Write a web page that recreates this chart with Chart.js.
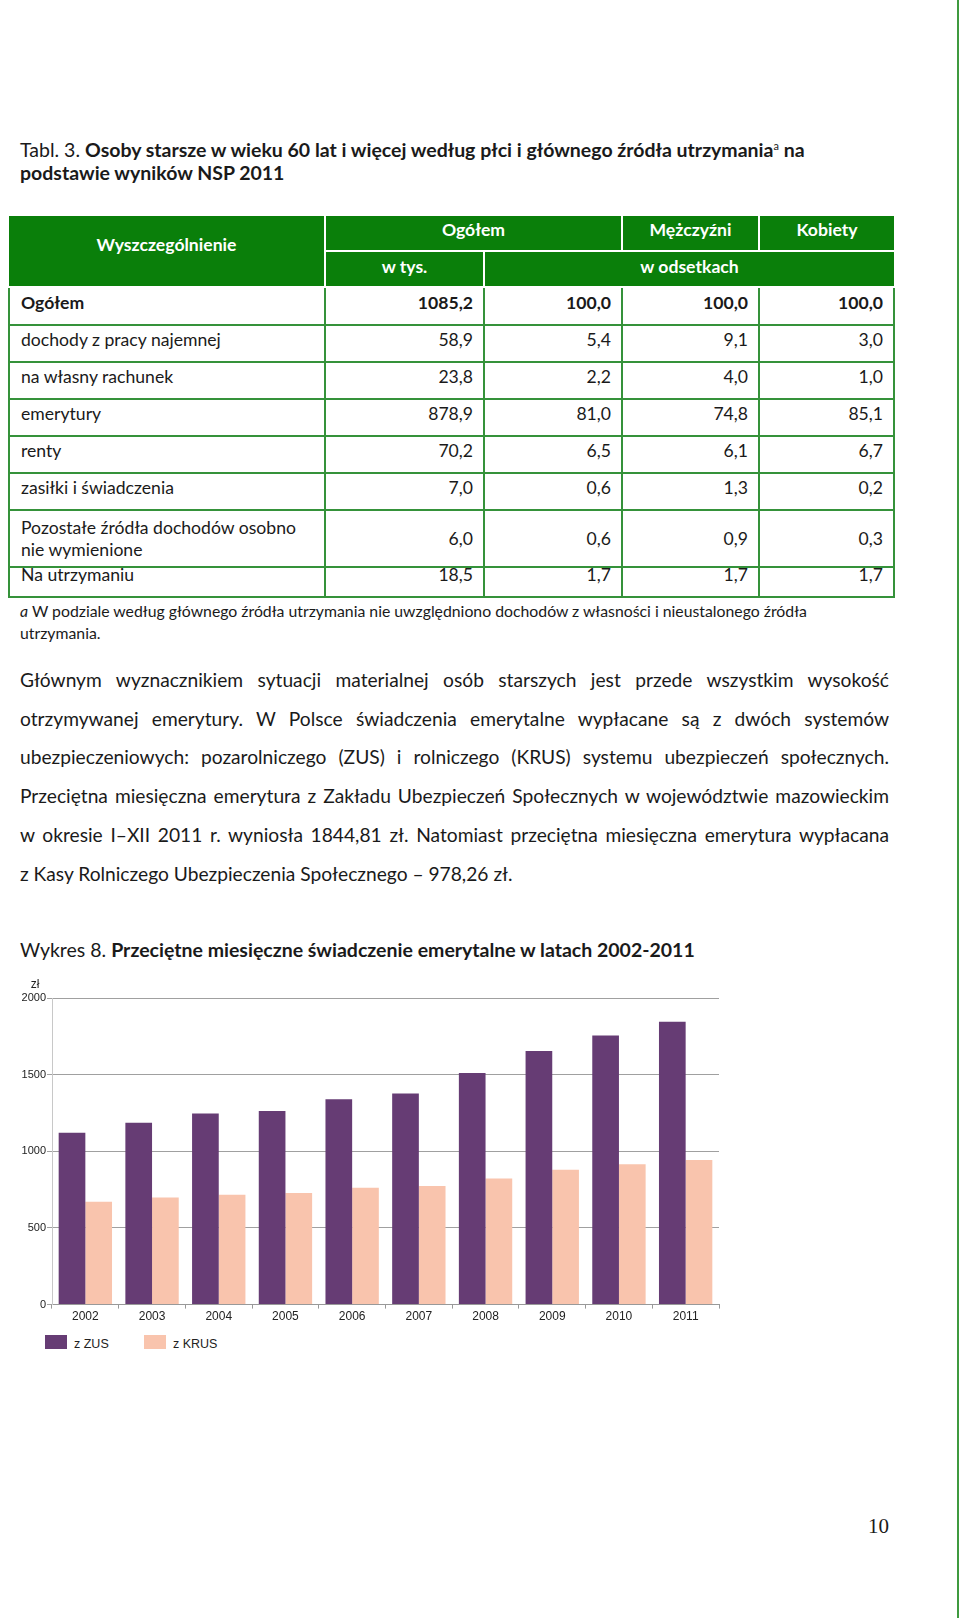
<!DOCTYPE html>
<html lang="pl">
<head>
<meta charset="utf-8"/>
<title>Tabl. 3 i Wykres 8</title>
<script src="https://cdn.jsdelivr.net/npm/chart.js@4.4.1/dist/chart.umd.min.js"></script>
<style>
    body {
      margin: 0;
      width: 960px;
      height: 1618px;
      position: relative;
      background: #fff;
      color: #1a1a1a;
      font-family: 'Lato', sans-serif;
      overflow: hidden;
    }
    .edge {
      position: absolute;
      left: 957px;
      top: 0;
      width: 2px;
      height: 1618px;
      background: #3f9a3f;
    }
    .title {
      position: absolute;
      left: 20px;
      top: 138px;
      font-size: 19.5px;
      line-height: 23.3px;
      white-space: nowrap;
    }
    .title sup {
      font-size: 11px;
      font-weight: normal;
      vertical-align: 7px;
      line-height: 0;
    }
    table {
      position: absolute;
      left: 8px;
      top: 216px;
      width: 885px;
      table-layout: fixed;
      border-collapse: collapse;
      font-size: 17.6px;
    }
    th {
      background: #0a7f0a;
      color: #fff;
      font-weight: bold;
      border-right: 2px solid #fff;
      border-bottom: 2px solid #fff;
      padding: 0 0 7px 0;
      vertical-align: middle;
    }
    th.last { border-right: none; }
    td {
      border: 2px solid #35923a;
      padding: 0 10px 7px 11px;
      vertical-align: middle;
      text-align: right;
      line-height: 22px;
    }
    td:first-child { text-align: left; }
    tr.bold td { font-weight: bold; }
    tr.tall td { padding-bottom: 0; }
    tr.short td { vertical-align: top; padding-top: 0; padding-bottom: 0; line-height: 13px; }
    .note {
      position: absolute;
      left: 20px;
      top: 600px;
      font-size: 15.8px;
      line-height: 21.6px;
      white-space: nowrap;
    }
    .para {
      position: absolute;
      left: 20px;
      top: 661px;
      width: 869px;
      font-size: 19.2px;
      line-height: 38.7px;
    }
    .para div { text-align: justify; text-align-last: justify; }
    .para div.end { text-align: left; text-align-last: left; }
    .caption {
      position: absolute;
      left: 20px;
      top: 938px;
      font-size: 19.5px;
      line-height: 24px;
      white-space: nowrap;
    }
    #chart {
      position: absolute;
      left: 0;
      top: 968px;
    }
    #legend {
      position: absolute;
      left: 45px;
      top: 1335px;
      display: flex;
      font-family: 'Liberation Sans', Arial, sans-serif;
      font-size: 12.5px;
      color: #222;
    }
    #legend .item {
      display: flex;
      align-items: center;
      width: 99px;
      height: 14px;
    }
    #legend .box {
      width: 22px;
      height: 14px;
      margin-right: 7px;
    }
    #legend .txt { position: relative; top: 2px; }
    .page {
      position: absolute;
      left: 868px;
      top: 1513px;
      font-family: 'Liberation Serif', serif;
      font-size: 21px;
      line-height: 26px;
    }
  </style>
</head>
<body>
<div class="edge"></div>

<div class="title">Tabl. 3. <b>Osoby starsze w wieku 60 lat i więcej według płci i głównego źródła utrzymania<sup>a</sup> na<br>podstawie wyników NSP 2011</b></div>

<table>
  <colgroup>
    <col style="width:316px"/><col style="width:159px"/><col style="width:138px"/><col style="width:137px"/><col style="width:135px"/>
  </colgroup>
  <tr style="height:35px">
    <th rowspan="2" style="padding-bottom:13px">Wyszczególnienie</th>
    <th colspan="2">Ogółem</th>
    <th>Mężczyźni</th>
    <th class="last">Kobiety</th>
  </tr>
  <tr style="height:36px">
    <th style="padding-bottom:5px">w tys.</th>
    <th colspan="3" class="last" style="padding-bottom:5px">w odsetkach</th>
  </tr>
  <tr class="bold" style="height:38px"><td>Ogółem</td><td>1085,2</td><td>100,0</td><td>100,0</td><td>100,0</td></tr>
  <tr style="height:37px"><td>dochody z pracy najemnej</td><td>58,9</td><td>5,4</td><td>9,1</td><td>3,0</td></tr>
  <tr style="height:37px"><td>na własny rachunek</td><td>23,8</td><td>2,2</td><td>4,0</td><td>1,0</td></tr>
  <tr style="height:37px"><td>emerytury</td><td>878,9</td><td>81,0</td><td>74,8</td><td>85,1</td></tr>
  <tr style="height:37px"><td>renty</td><td>70,2</td><td>6,5</td><td>6,1</td><td>6,7</td></tr>
  <tr style="height:37px"><td>zasiłki i świadczenia</td><td>7,0</td><td>0,6</td><td>1,3</td><td>0,2</td></tr>
  <tr class="tall" style="height:57px"><td>Pozostałe źródła dochodów osobno<br>nie wymienione</td><td>6,0</td><td>0,6</td><td>0,9</td><td>0,3</td></tr>
  <tr class="short" style="height:30px"><td>Na utrzymaniu</td><td>18,5</td><td>1,7</td><td>1,7</td><td>1,7</td></tr>
</table>

<div class="note"><i>a</i> W podziale według głównego źródła utrzymania nie uwzględniono dochodów z własności i nieustalonego źródła<br>utrzymania.</div>

<div class="para">
  <div>Głównym wyznacznikiem sytuacji materialnej osób starszych jest przede wszystkim wysokość</div>
  <div>otrzymywanej emerytury. W Polsce świadczenia emerytalne wypłacane są z dwóch systemów</div>
  <div>ubezpieczeniowych: pozarolniczego (ZUS) i rolniczego (KRUS) systemu ubezpieczeń społecznych.</div>
  <div>Przeciętna miesięczna emerytura z Zakładu Ubezpieczeń Społecznych w województwie mazowieckim</div>
  <div>w okresie I–XII 2011 r. wyniosła 1844,81 zł. Natomiast przeciętna miesięczna emerytura wypłacana</div>
  <div class="end">z Kasy Rolniczego Ubezpieczenia Społecznego – 978,26 zł.</div>
</div>

<div class="caption">Wykres 8. <b>Przeciętne miesięczne świadczenie emerytalne w latach 2002-2011</b></div>

<canvas id="chart" width="740" height="357"></canvas>
<div id="legend"></div>

<div class="page">10</div>

<script>
    // values (zł)
    const years = ['2002', '2003', '2004', '2005', '2006', '2007', '2008', '2009', '2010', '2011'];
    const zusValues = [1121, 1187, 1246, 1263, 1340, 1377, 1510, 1655, 1755, 1845];
    const krusValues = [671, 699, 717, 728, 763, 774, 822, 879, 916, 944];
    const seriesNames = ['z ZUS', 'z KRUS'];
    const seriesColors = ['#663c74', '#f9c4ad'];
    const yMax = 2000;
    const yStep = 500;
    const unit = 'zł';

    Chart.defaults.font.family = "'Liberation Sans', Arial, sans-serif";
    Chart.defaults.font.size = 11;
    Chart.defaults.color = '#222';

    // the "zł" over the value axis
    const unitLabel = {
      id: 'unitLabel',
      afterDraw(chart) {
        const ctx = chart.ctx;
        const area = chart.chartArea;
        ctx.save();
        ctx.font = "12px 'Liberation Sans', Arial, sans-serif";
        ctx.fillStyle = '#222';
        ctx.textAlign = 'center';
        ctx.textBaseline = 'middle';
        ctx.fillText(unit, area.left - 17, area.top - 13);
        ctx.restore();
      }
    };

    const chart = new Chart(document.getElementById('chart'), {
      type: 'bar',
      data: {
        labels: years,
        datasets: [
          { label: seriesNames[0], data: zusValues, backgroundColor: seriesColors[0] },
          { label: seriesNames[1], data: krusValues, backgroundColor: seriesColors[1] }
        ]
      },
      options: {
        responsive: false,
        animation: false,
        devicePixelRatio: 1,
        categoryPercentage: 0.8,
        barPercentage: 1.0,
        layout: { padding: { top: 30, left: 13, right: 21, bottom: 0 } },
        plugins: {
          tooltip: { enabled: false },
          legend: { display: false }
        },
        scales: {
          x: {
            grid: {
              offset: true,
              drawOnChartArea: false,
              tickLength: 4,
              color: '#999'
            },
            border: { color: '#999' },
            ticks: { padding: 1, font: { size: 12 }, maxRotation: 0 }
          },
          y: {
            min: 0,
            max: yMax,
            ticks: { stepSize: yStep, padding: 1, callback: v => String(v) },
            grid: { color: '#a0a0a0', tickLength: 5 },
            border: { color: '#c8c8c8' },
            afterFit(scale) { scale.width = 39; }
          }
        }
      },
      plugins: [unitLabel]
    });

    // legend below the chart, built from the datasets
    const legendEl = document.getElementById('legend');
    chart.data.datasets.forEach(ds => {
      const item = document.createElement('span');
      item.className = 'item';
      const box = document.createElement('span');
      box.className = 'box';
      box.style.background = ds.backgroundColor;
      const txt = document.createElement('span');
      txt.className = 'txt';
      txt.textContent = ds.label;
      item.appendChild(box);
      item.appendChild(txt);
      legendEl.appendChild(item);
    });
  </script>
</body>
</html>
